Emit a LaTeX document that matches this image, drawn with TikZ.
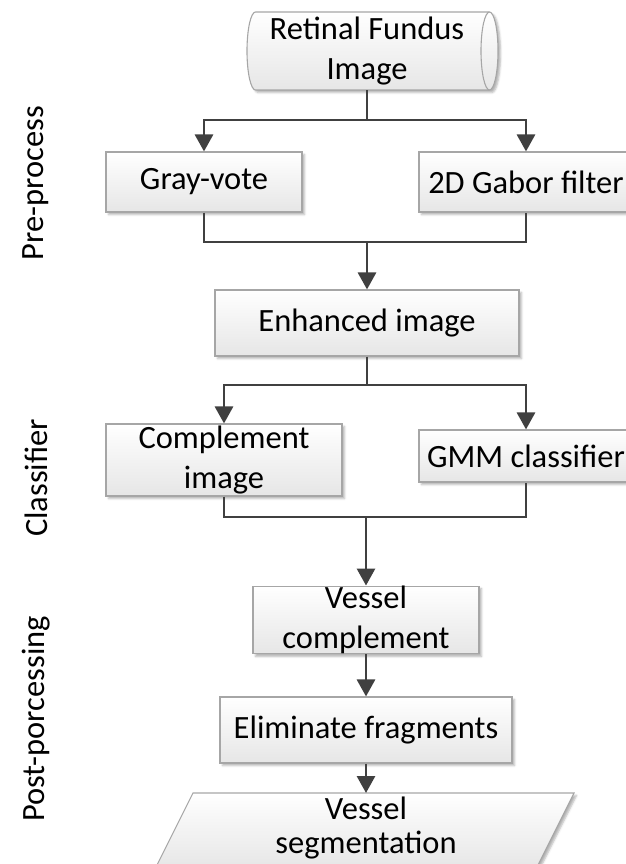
\documentclass[tikz,border=0pt]{standalone}
\usepackage{fontspec}
\setmainfont{Carlito}
\usetikzlibrary{arrows.meta,shadows.blur,calc}

\definecolor{edgegray}{HTML}{A6A6A6}
\definecolor{linegray}{HTML}{404040}
\definecolor{fillbot}{HTML}{E6E6E6}

\tikzset{
  every node/.append style={font=\fontsize{32.5pt}{40pt}\selectfont, inner sep=0pt, align=center},
  shaded/.style={draw=edgegray, line width=1.1pt, top color=white, bottom color=fillbot,
    blur shadow={shadow xshift=2.5pt, shadow yshift=-2.5pt, shadow blur radius=2pt, shadow opacity=30}},
  procbox/.style={shaded, rectangle},
  flowline/.style={draw=linegray, line width=2.9pt},
  flowarrow/.style={flowline, -{Triangle[width=18pt,length=17pt]}},
  sidelabel/.style={rotate=90}
}

\begin{document}
\begin{tikzpicture}[x=1pt,y=-1pt]
\useasboundingbox (0,0) rectangle (625,864);

% input data store drawn as a horizontal cylinder
\path[shaded] (255.5,12) -- (489.5,12) arc[start angle=90, end angle=-90, x radius=8.5pt, y radius=39pt]
  -- (255.5,90) arc[start angle=270, end angle=90, x radius=8.5pt, y radius=39pt] -- cycle;
\draw[edgegray, line width=1.1pt] (489.5,12) arc[start angle=90, end angle=270, x radius=8.5pt, y radius=39pt];
\node[minimum width=240pt, minimum height=78pt] (src) at (367,51) {Retinal Fundus\\Image};

% pre-processing stage
\node[procbox, minimum width=196pt, minimum height=60pt] (gray) at (204,182) {Gray-vote};
\node[procbox, minimum width=214pt, minimum height=60pt] (gabor) at (526,182) {2D Gabor filter};
\node[procbox, minimum width=304pt, minimum height=66pt] (enh) at (367,323) {Enhanced image};

% classification stage
\node[procbox, minimum width=236pt, minimum height=72pt] (comp) at (224,460) {Complement\\image};
\node[procbox, minimum width=214pt, minimum height=52pt] (gmm) at (526,456) {GMM classifier};

% post-processing stage
\node[procbox, minimum width=226pt, minimum height=66pt] (vcomp) at (366,620) {Vessel\\complement};
\node[procbox, minimum width=292pt, minimum height=66pt] (elim) at (366,730) {Eliminate fragments};

% output as a slanted data box
\path[shaded] (193,793) -- (574,793) -- (536,869) -- (155,869) -- cycle;
\coordinate (segtop) at (366,793);
\node[font=\fontsize{32.5pt}{34pt}\selectfont] (seg) at (366,827.5) {Vessel\\segmentation};

% stage labels
\node[sidelabel] (lpre) at (36,183) {Pre-process};
\node[sidelabel] (lcls) at (36,478) {Classifier};
\node[sidelabel] (lpost) at (36,719) {Post-porcessing};

% connectors
\coordinate (f1) at (367,120);
\coordinate (j1) at (367,242);
\coordinate (f2) at (367,385);
\coordinate (j2) at (366,517);

\draw[flowline] (src.south) -- (f1);
\draw[flowarrow] (f1) -| (gray.north);
\draw[flowarrow] (f1) -| (gabor.north);
\draw[flowline] (gray.south) |- (j1) -| (gabor.south);
\draw[flowarrow] (j1) -- (enh.north);

\draw[flowline] (enh.south) -- (f2);
\draw[flowarrow] (f2) -| (comp.north);
\draw[flowarrow] (f2) -| (gmm.north);
\draw[flowline] (comp.south) |- (j2) -| (gmm.south);
\draw[flowarrow] (j2) -- (vcomp.north);

\draw[flowarrow] (vcomp.south) -- (elim.north);
\draw[flowarrow] (elim.south) -- (segtop);
\end{tikzpicture}
\end{document}
